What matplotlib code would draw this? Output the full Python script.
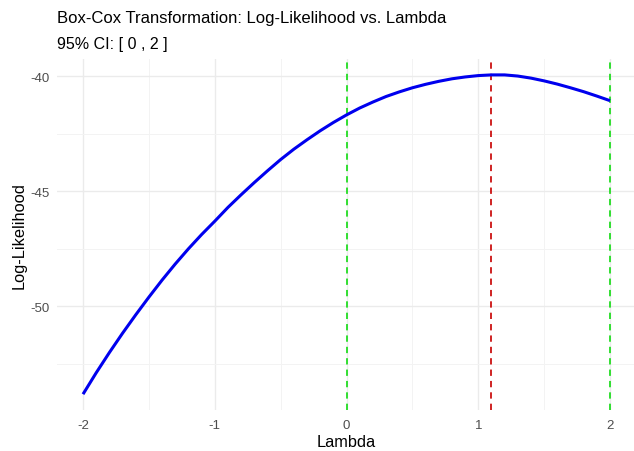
import matplotlib.pyplot as plt

lam = [-2.0, -1.9, -1.8, -1.7, -1.6, -1.5, -1.4, -1.3, -1.2, -1.1,
       -1.0, -0.9, -0.8, -0.7, -0.6, -0.5, -0.4, -0.3, -0.2, -0.1,
       0.0, 0.1, 0.2, 0.3, 0.4, 0.5, 0.6, 0.7, 0.8, 0.9,
       1.0, 1.1, 1.2, 1.3, 1.4, 1.5, 1.6, 1.7, 1.8, 1.9, 2.0]
loglik = [-53.82, -52.89, -52.01, -51.17, -50.37, -49.60, -48.86, -48.16, -47.50, -46.88,
          -46.30, -45.70, -45.15, -44.62, -44.11, -43.62, -43.17, -42.76, -42.37, -42.01,
          -41.68, -41.38, -41.12, -40.88, -40.68, -40.50, -40.35, -40.22, -40.11, -40.03,
          -39.97, -39.94, -39.94, -39.99, -40.08, -40.20, -40.34, -40.50, -40.67, -40.86, -41.06]
ci = [0, 2]
best = 1.1

plt.rcParams['font.family'] = ['Liberation Sans', 'DejaVu Sans']
plt.rcParams['axes.unicode_minus'] = False

fig = plt.figure(figsize=(6.34, 4.52), dpi=100)
ax = fig.add_axes([0.0894, 0.0916, 0.9143, 0.7756])

ax.plot(lam, loglik, color='#0000EE', lw=2.2, zorder=3, solid_capstyle='butt')
for c in ci:
    ax.axvline(c, color='#22DD22', lw=1.3, ls=(0, (3.5, 2.8)), zorder=2)
ax.axvline(best, color='#CC1111', lw=1.3, ls=(0, (3.5, 2.8)), zorder=2)

ax.set_xlim(-2.2, 2.2)
ax.set_ylim(-54.49, -39.25)
ax.set_xticks([-2, -1, 0, 1, 2])
ax.set_yticks([-40, -45, -50])
ax.set_xticks([-1.5, -0.5, 0.5, 1.5], minor=True)
ax.set_yticks([-42.5, -47.5, -52.5], minor=True)
ax.grid(True, which='major', color='#EBEBEB', lw=1.0, zorder=0)
ax.grid(True, which='minor', color='#F3F3F3', lw=0.7, zorder=0)
ax.set_axisbelow(True)
for s in ax.spines.values():
    s.set_visible(False)
ax.tick_params(which='both', length=0, labelsize=9.5, labelcolor='#4D4D4D')
ax.tick_params(axis='x', pad=7)
ax.tick_params(axis='y', pad=5)

ax.set_xlabel('Lambda', fontsize=11.8, labelpad=2)
ax.set_ylabel('Log-Likelihood', fontsize=11.8, labelpad=3)
fig.text(0.09, 0.958, 'Box-Cox Transformation: Log-Likelihood vs. Lambda',
         fontsize=12, va='center', ha='left')
fig.text(0.09, 0.901, '95% CI: [ 0 , 2 ]', fontsize=11.5, va='center', ha='left')

fig.savefig('out.png', dpi=100, facecolor='white')
